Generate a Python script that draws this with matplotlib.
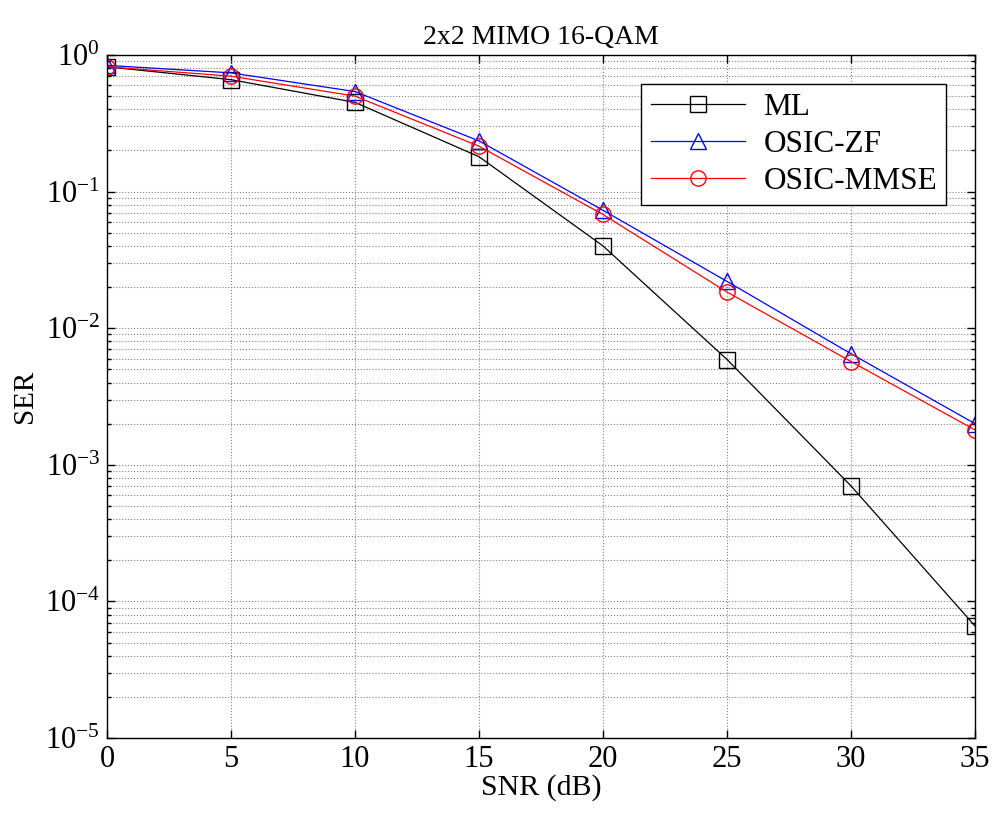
import numpy as np
import matplotlib
matplotlib.use("Agg")
import matplotlib.pyplot as plt
from matplotlib.ticker import LogLocator, NullFormatter, MultipleLocator

plt.rcParams["font.family"] = ["Liberation Serif", "DejaVu Serif"]
plt.rcParams["mathtext.fontset"] = "custom"
plt.rcParams["mathtext.rm"] = "Liberation Serif"
plt.rcParams["mathtext.it"] = "Liberation Serif:italic"

# ---- data ----
snr_db = [0, 5, 10, 15, 20, 25, 30, 35]
ser_ml = [0.82, 0.66, 0.45, 0.18, 0.040, 0.0059, 0.00070, 0.000066]
ser_zf = [0.84, 0.74, 0.54, 0.235, 0.073, 0.022, 0.0065, 0.0020]
ser_mmse = [0.82, 0.70, 0.50, 0.215, 0.068, 0.0184, 0.0057, 0.0018]

fig = plt.figure(figsize=(9.92, 8.15), dpi=100)
ax = fig.add_axes([0.1079, 0.0945, 0.875, 0.838])

ax.semilogy(snr_db, ser_ml, "k-s", lw=0.9, ms=11, mfc="none", mew=1.0, label="ML")
ax.semilogy(snr_db, ser_zf, "b-^", lw=0.9, ms=11, mfc="none", mew=1.0, label="OSIC-ZF")
ax.semilogy(snr_db, ser_mmse, "r-o", lw=0.9, ms=11, mfc="none", mew=1.0, label="OSIC-MMSE")

ax.set_xlim(0, 35)
ax.set_ylim(1e-5, 1)
ax.xaxis.set_major_locator(MultipleLocator(5))
ax.yaxis.set_major_locator(LogLocator(base=10, numticks=10))
ax.yaxis.set_minor_locator(LogLocator(base=10, subs=np.arange(2, 10), numticks=100))
ax.yaxis.set_minor_formatter(NullFormatter())

ax.grid(True, which="major", axis="both", ls=":", color="gray", lw=0.8)
ax.grid(True, which="minor", axis="y", ls=":", color="gray", lw=0.8)
ax.tick_params(which="both", direction="in", top=True, right=True, labelsize=22)
ax.tick_params(which="major", length=6, width=1, pad=5)
ax.tick_params(which="minor", length=3, width=1)
for s in ax.spines.values():
    s.set_linewidth(1.0)

ax.set_title("2x2 MIMO 16-QAM", fontsize=20, pad=8)
ax.set_xlabel("SNR (dB)", fontsize=21.5, labelpad=0)
ax.set_ylabel("SER", fontsize=21, labelpad=5)

leg = ax.legend(loc="upper right", fontsize=22.5, fancybox=False, framealpha=1,
                edgecolor="black", handlelength=3.0, borderpad=0.3,
                labelspacing=0.25, handletextpad=0.6,
                bbox_to_anchor=(0.985, 0.981))
leg.get_frame().set_linewidth(1.0)

fig.savefig("out.png", dpi=100)
